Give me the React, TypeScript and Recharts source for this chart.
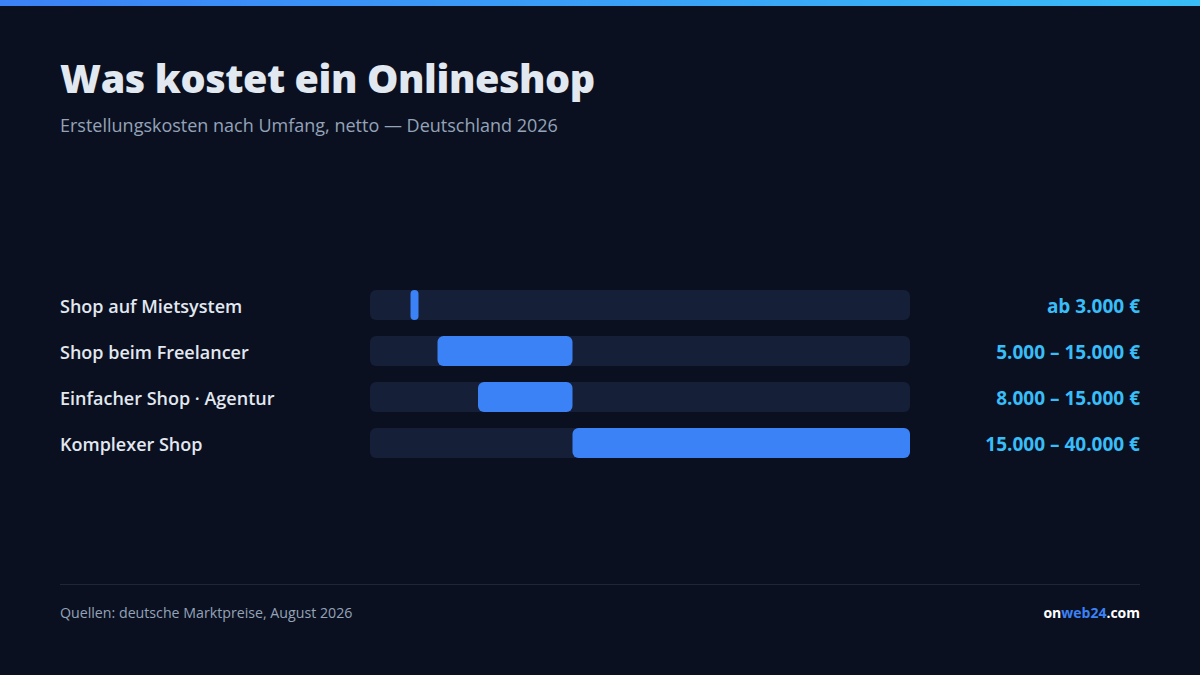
import React from "react";
import { BarChart, Bar, XAxis, YAxis } from "recharts";

const categories = [
  "Shop auf Mietsystem",
  "Shop beim Freelancer",
  "Einfacher Shop · Agentur",
  "Komplexer Shop",
];
const lowValues = [3000, 5000, 8000, 15000];
const highValues = [3000, 15000, 15000, 40000];
const valueLabels = [
  "ab 3.000 €",
  "5.000 – 15.000 €",
  "8.000 – 15.000 €",
  "15.000 – 40.000 €",
];

const data = categories.map((name, i) => ({
  name,
  range: [lowValues[i], highValues[i]],
  label: valueLabels[i],
}));

const FONT = "'Open Sans', 'Noto Sans', sans-serif";

// the "ab" row has no upper bound, so draw a thin marker
const RangeShape = (props: any) => {
  const { x, y, width, height } = props;
  const w = Math.max(width, 8);
  const r = Math.min(6, w / 2);
  return <rect x={x} y={y} width={w} height={height} rx={r} ry={r} fill="#3b82f6" />;
};

const LeftTick = ({ x, y, payload }: any) => (
  <text x={x - 310} y={y} dy={7.5} textAnchor="start" fill="#e2e8f0" fontSize={18} fontWeight={600} fontFamily={FONT}>
    {payload.value}
  </text>
);

const RightTick = ({ x, y, payload }: any) => (
  <text x={x + 230} y={y} dy={7.5} textAnchor="end" fill="#38bdf8" fontSize={19} fontWeight={700} fontFamily={FONT}>
    {payload.value}
  </text>
);

export default function App() {
  return (
    <div
      style={{
        position: "absolute",
        left: 0,
        top: 0,
        width: 1200,
        height: 675,
        background: "#0b1020",
        fontFamily: FONT,
        overflow: "hidden",
      }}
    >
      <div style={{ height: 6, background: "linear-gradient(90deg, #3b82f6, #38bdf8)" }} />
      <div
        style={{
          position: "absolute",
          left: 60,
          top: 51,
          fontSize: 39.5,
          fontWeight: 800,
          color: "#e2e8f0",
          letterSpacing: -0.4,
        }}
      >
        Was kostet ein Onlineshop
      </div>
      <div style={{ position: "absolute", left: 60, top: 113, fontSize: 18, color: "#94a3b8" }}>
        Erstellungskosten nach Umfang, netto — Deutschland 2026
      </div>
      <div style={{ position: "absolute", left: 60, top: 282 }}>
        <BarChart
          width={1080}
          height={184}
          data={data}
          layout="vertical"
          margin={{ top: 0, right: 0, bottom: 0, left: 0 }}
          barCategoryGap={16}
        >
          <XAxis type="number" domain={[0, 40000]} hide />
          <YAxis
            yAxisId="left"
            type="category"
            dataKey="name"
            width={310}
            axisLine={false}
            tickLine={false}
            tickSize={0}
            tickMargin={0}
            tick={<LeftTick />}
          />
          <YAxis
            yAxisId="right"
            orientation="right"
            type="category"
            dataKey="label"
            width={230}
            axisLine={false}
            tickLine={false}
            tickSize={0}
            tickMargin={0}
            tick={<RightTick />}
          />
          <Bar
            yAxisId="left"
            dataKey="range"
            barSize={30}
            background={{ fill: "#161f38", radius: 6 }}
            shape={<RangeShape />}
            isAnimationActive={false}
          />
        </BarChart>
      </div>
      <div style={{ position: "absolute", left: 60, top: 584, width: 1080, height: 1, background: "#1e2638" }} />
      <div style={{ position: "absolute", left: 60, top: 603, fontSize: 14.2, color: "#94a3b8" }}>
        Quellen: deutsche Marktpreise, August 2026
      </div>
      <div style={{ position: "absolute", right: 60, top: 603, fontSize: 14, fontWeight: 700, color: "#ffffff" }}>
        on<span style={{ color: "#3b82f6" }}>web24</span>.com
      </div>
    </div>
  );
}
